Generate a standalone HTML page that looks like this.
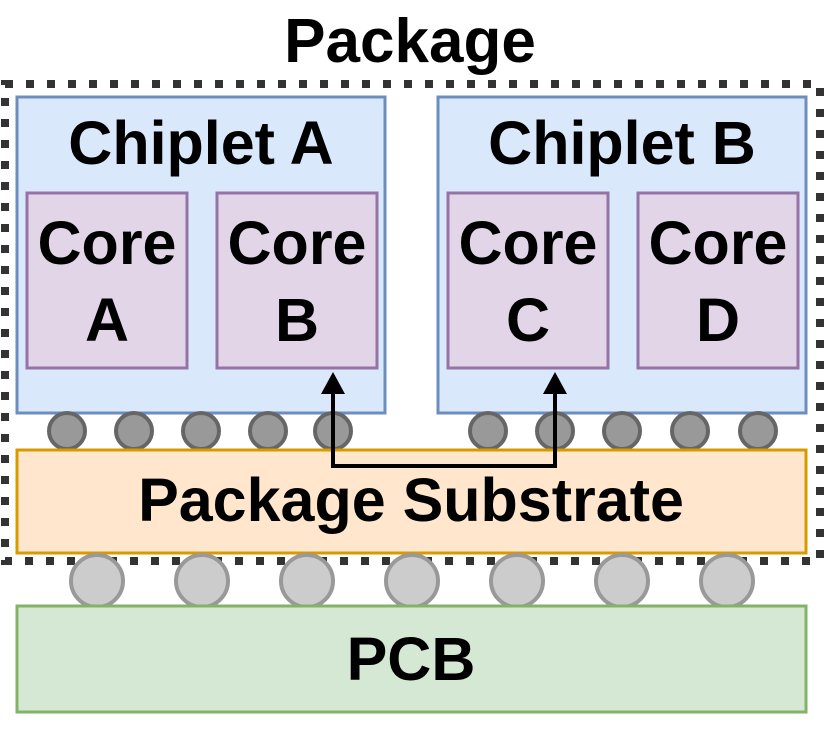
<!DOCTYPE html>
<html><head><style>body{margin:0;background:#fff}</style></head><body>
<svg width="830" height="729" viewBox="0 0 830 729" xmlns="http://www.w3.org/2000/svg" font-family="Liberation Sans, sans-serif" font-weight="bold" text-anchor="middle">
<text x="410" y="62" font-size="62">Package</text>
<rect x="17" y="97" width="368" height="316" fill="#dae8fc" stroke="#6c8ebf" stroke-width="3"/>
<rect x="438" y="97" width="368" height="316" fill="#dae8fc" stroke="#6c8ebf" stroke-width="3"/>
<text x="201" y="164" font-size="61">Chiplet A</text>
<text x="622" y="164" font-size="61">Chiplet B</text>
<g fill="#e1d5e7" stroke="#9673a6" stroke-width="3">
<rect x="27" y="193" width="160" height="175"/><rect x="217" y="193" width="160" height="175"/>
<rect x="448" y="193" width="160" height="175"/><rect x="638" y="193" width="160" height="175"/>
</g>
<g font-size="61">
<text x="107" y="264">Core</text><text x="107" y="341">A</text>
<text x="297" y="264">Core</text><text x="297" y="341">B</text>
<text x="528" y="264">Core</text><text x="528" y="341">C</text>
<text x="718" y="264">Core</text><text x="718" y="341">D</text>
</g>
<g fill="#999" stroke="#666" stroke-width="4">
<circle cx="67" cy="431" r="18"/><circle cx="134" cy="431" r="18"/><circle cx="201" cy="431" r="18"/><circle cx="268" cy="431" r="18"/><circle cx="333" cy="431" r="18"/>
<circle cx="488" cy="431" r="18"/><circle cx="555" cy="431" r="18"/><circle cx="622" cy="431" r="18"/><circle cx="690" cy="431" r="18"/><circle cx="758" cy="431" r="18"/>
</g>
<rect x="17" y="450" width="789" height="103" fill="#ffe6cc" stroke="#d79b00" stroke-width="3"/>
<text x="411" y="521" font-size="61">Package Substrate</text>
<path d="M333 393 V466 H555 V393" fill="none" stroke="#000" stroke-width="4"/>
<path d="M333 372 L321 394 L345 394 Z M555 372 L543 394 L567 394 Z" fill="#000"/>
<rect x="5" y="84" width="815" height="477" fill="none" stroke="#333" stroke-width="8" stroke-dasharray="8 13"/>
<g fill="#ccc" stroke="#999" stroke-width="4">
<circle cx="97" cy="581" r="26"/><circle cx="202" cy="581" r="26"/><circle cx="307" cy="581" r="26"/><circle cx="412" cy="581" r="26"/><circle cx="517" cy="581" r="26"/><circle cx="622" cy="581" r="26"/><circle cx="727" cy="581" r="26"/>
</g>
<rect x="17" y="606" width="789" height="106" fill="#d5e8d4" stroke="#82b366" stroke-width="3"/>
<text x="411" y="680" font-size="61">PCB</text>
</svg>
</body></html>
